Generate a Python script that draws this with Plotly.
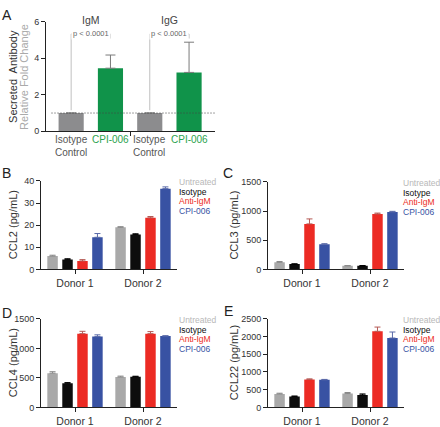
import plotly.graph_objects as go

W, H = 440, 427
FONT = "Liberation Sans Narrow, Arial Narrow, Liberation Sans"
FONT_W = "Liberation Sans"

# ---------------- Data ----------------
# Panel A
a_labels = ["Isotype<br>Control", "CPI-006", "Isotype<br>Control", "CPI-006"]
a_label_colors = ["#555555", "#2aa24c", "#555555", "#2aa24c"]
a_values = [1.0, 3.45, 1.0, 3.22]
a_err = [0.0, 0.72, 0.0, 1.65]
a_colors = ["#8c8c8e", "#10934a", "#8c8c8e", "#10934a"]
a_groups = ["IgM", "IgG"]
a_pvals = ["p < 0.0001", "p < 0.0001"]

# Panels B-E
donors = ["Donor 1", "Donor 2"]
series = ["Untreated", "Isotype", "Anti-IgM", "CPI-006"]
series_colors = ["#a9a9a9", "#0d0d0d", "#ec2b24", "#3852a3"]
err_colors = ["#8a8a8a", "#000000", "#b55a55", "#5a6aa8"]

ccl2 = {"Untreated": [6.0, 19.0], "Isotype": [4.5, 15.8], "Anti-IgM": [3.8, 23.3], "CPI-006": [14.5, 36.5]}
ccl2_err = {"Untreated": [0.4, 0.3], "Isotype": [0.3, 0.3], "Anti-IgM": [0.6, 0.6], "CPI-006": [1.7, 0.8]}
ccl3 = {"Untreated": [120, 60], "Isotype": [90, 60], "Anti-IgM": [780, 950], "CPI-006": [430, 985]}
ccl3_err = {"Untreated": [15, 5], "Isotype": [5, 5], "Anti-IgM": [85, 15], "CPI-006": [10, 10]}
ccl4 = {"Untreated": [580, 515], "Isotype": [410, 520], "Anti-IgM": [1250, 1250], "CPI-006": [1200, 1210]}
ccl4_err = {"Untreated": [25, 15], "Isotype": [10, 8], "Anti-IgM": [40, 35], "CPI-006": [30, 5]}
ccl22 = {"Untreated": [380, 390], "Isotype": [310, 350], "Anti-IgM": [790, 2150], "CPI-006": [780, 1960]}
ccl22_err = {"Untreated": [20, 30], "Isotype": [10, 30], "Anti-IgM": [15, 120], "CPI-006": [10, 170]}

panels = [
    # name, data, err, ytitle, ymax, dtick, axis idx, x px range, y px range, title x px
    ("B", ccl2, ccl2_err, "CCL2 (pg/mL)", 40, 10, 2, (41, 177), (272, 181), 13),
    ("C", ccl3, ccl3_err, "CCL3 (pg/mL)", 1500, 500, 3, (268, 404), (272, 182), 234),
    ("D", ccl4, ccl4_err, "CCL4 (pg/mL)", 1500, 500, 4, (41, 177), (414, 323), 13),
    ("E", ccl22, ccl22_err, "CCL22 (pg/mL)", 2500, 500, 5, (268, 404), (414, 323), 234),
]

def px(x):
    return x / W

def py(y):
    return 1 - y / H

fig = go.Figure()
annotations = []
shapes = []

axis_common = dict(showline=True, linecolor="#222222", linewidth=1, ticks="outside",
                   ticklen=4, tickcolor="#222222", tickwidth=1, showgrid=False,
                   zeroline=False, tickfont=dict(family=FONT, size=9, color="#333333"))

# ---------------- Panel A ----------------
a_x = list(range(len(a_values)))
fig.add_trace(go.Bar(
    x=a_x, y=a_values, width=0.64, marker=dict(color=a_colors, line=dict(width=0)),
    error_y=dict(type="data", array=a_err, arrayminus=[0] * len(a_err), symmetric=False,
                 color="#7a7a7a", thickness=1, width=5),
    xaxis="x", yaxis="y", showlegend=False,
))
fig.update_layout(
    xaxis=dict(domain=[px(46), px(215)], range=[-0.64, 3.66], tickvals=[1.5], ticktext=[""],
               anchor="y", **axis_common),
    yaxis=dict(domain=[py(130), py(17)], range=[0, 6], tickvals=[0, 2, 4, 6],
               anchor="x", **axis_common),
)
# category labels
for i, (lab, col) in enumerate(zip(a_labels, a_label_colors)):
    annotations.append(dict(x=i, y=py(131), xref="x", yref="paper", text=lab, showarrow=False,
                            yanchor="top", xanchor="center",
                            font=dict(family=FONT, size=10, color=col)))
# group labels
for g, (name, p) in enumerate(zip(a_groups, a_pvals)):
    xc = 2 * g + 0.5
    annotations.append(dict(x=xc, y=py(15), xref="x", yref="paper", text=name, showarrow=False,
                            xanchor="center", yanchor="middle",
                            font=dict(family=FONT, size=10.5, color="#444444")))
    x0, x1 = 2 * g, 2 * g + 1
    top = 5.32
    # bracket
    shapes.append(dict(type="line", xref="x", yref="y", x0=x0, x1=x0,
                       y0=a_values[x0] + 0.15, y1=top, line=dict(color="#c0c0c0", width=1)))
    shapes.append(dict(type="line", xref="x", yref="y", x0=x0, x1=x1,
                       y0=top, y1=top, line=dict(color="#c0c0c0", width=1)))
    shapes.append(dict(type="line", xref="x", yref="y", x0=x1, x1=x1,
                       y0=top, y1=top - 0.25, line=dict(color="#c0c0c0", width=1)))
    annotations.append(dict(x=xc, y=top, xref="x", yref="y", text=p, showarrow=False,
                            xanchor="center", yanchor="middle",
                            bgcolor="white", borderpad=1,
                            font=dict(family=FONT, size=7.5, color="#666666")))
# dotted reference line
shapes.append(dict(type="line", xref="x", yref="y", x0=-0.5, x1=3.66, y0=1, y1=1,
                   line=dict(color="#444444", width=1, dash="1px,2px")))
# y title
annotations.append(dict(x=px(13), y=py(74), xref="paper", yref="paper", text="Secreted  Antibody",
                        textangle=-90, showarrow=False, xanchor="center", yanchor="middle",
                        font=dict(family=FONT, size=11, color="#333333")))
annotations.append(dict(x=px(24), y=py(74), xref="paper", yref="paper", text="Relative Fold Change",
                        textangle=-90, showarrow=False, xanchor="center", yanchor="middle",
                        font=dict(family=FONT, size=11, color="#aaaaaa")))
annotations.append(dict(x=px(7), y=py(10), xref="paper", yref="paper", text="A", showarrow=False,
                        xanchor="center", yanchor="middle",
                        font=dict(family=FONT_W, size=14, color="#222222")))

# ---------------- Panels B-E ----------------
letter_pos = {"B": (7, 173), "C": (228, 173), "D": (7, 317), "E": (228, 315)}
for name, data, err, ytitle, ymax, dtick, idx, (xl, xr), (yb, yt), tx in panels:
    xa, ya = f"x{idx}", f"y{idx}"
    for s, c, ec in zip(series, series_colors, err_colors):
        fig.add_trace(go.Bar(
            x=donors, y=data[s], name=s, marker=dict(color=c, line=dict(width=0)),
            error_y=dict(type="data", array=err[s], arrayminus=[0, 0], symmetric=False,
                         color=ec, thickness=1, width=3),
            xaxis=xa, yaxis=ya, showlegend=False,
        ))
    fig.update_layout(**{
        f"xaxis{idx}": dict(domain=[px(xl), px(xr)], range=[-0.5, 1.5], anchor=ya,
                            type="category", **{**axis_common,
                                                "tickfont": dict(family=FONT, size=10.5, color="#333333")}),
        f"yaxis{idx}": dict(domain=[py(yb), py(yt)], range=[0, ymax], dtick=dtick, anchor=xa,
                            **axis_common),
    })
    # y title
    annotations.append(dict(x=px(tx), y=py((yb + yt) / 2), xref="paper", yref="paper",
                            text=ytitle, textangle=-90, showarrow=False,
                            xanchor="center", yanchor="middle",
                            font=dict(family=FONT, size=11, color="#333333")))
    # legend as colored text
    leg_x = min(xr + 1, W - 38)
    for k, (s, c) in enumerate(zip(series, series_colors)):
        annotations.append(dict(x=px(leg_x), y=py(yt + 1 + 10 * k), xref="paper", yref="paper",
                                text=s, showarrow=False, xanchor="left", yanchor="middle",
                                borderpad=0,
                                font=dict(family=FONT, size=8.5,
                                          color="#b8b8b8" if s == "Untreated" else c)))
    lx, ly = letter_pos[name]
    annotations.append(dict(x=px(lx), y=py(ly), xref="paper", yref="paper", text=name,
                            showarrow=False, xanchor="center", yanchor="middle",
                            font=dict(family=FONT_W, size=14, color="#222222")))

fig.update_layout(
    width=W, height=H, margin=dict(l=0, r=0, t=0, b=0),
    paper_bgcolor="white", plot_bgcolor="white",
    barmode="group", bargap=0.12, bargroupgap=0.3,
    annotations=annotations, shapes=shapes,
    font=dict(family=FONT),
)

fig.write_html("out.html", config={"displayModeBar": False},
               post_script="document.body.style.margin='0';document.body.style.overflow='hidden';")
